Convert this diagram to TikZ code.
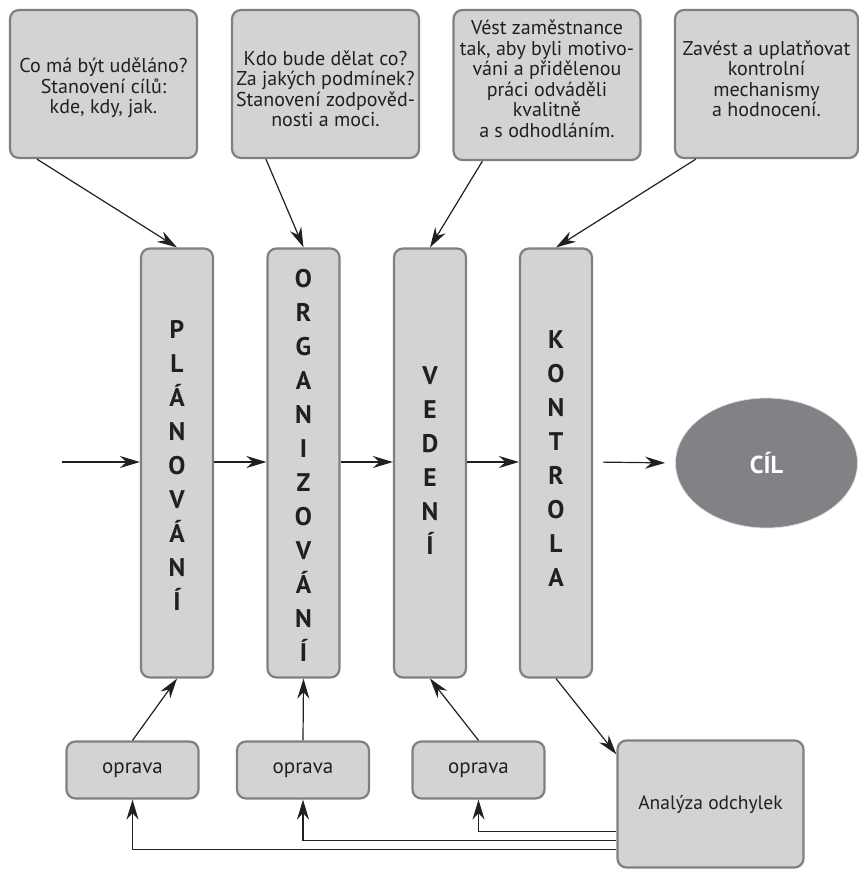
\documentclass[tikz,border=0pt]{standalone}
\usepackage{fontspec}
\setmainfont{PT Sans}
\usetikzlibrary{arrows.meta,shapes.geometric,calc}
\definecolor{boxfill}{HTML}{D1D3D4}
\definecolor{boxdraw}{HTML}{808080}
\definecolor{goalfill}{HTML}{808285}
\definecolor{linecol}{HTML}{231F20}
\begin{document}
\begin{tikzpicture}[x=1pt,y=-1pt,
  box/.style={draw=boxdraw,line width=2.2pt,fill=boxfill,rounded corners=9pt,inner sep=0pt},
  topbox/.style={box,minimum width=187pt,minimum height=148pt},
  colbox/.style={box,minimum width=72pt,minimum height=429pt},
  opbox/.style={box,minimum width=132pt,minimum height=57pt,font=\fontsize{21}{22}\selectfont,text=linecol},
  toptxt/.style={align=center,inner sep=0pt,font=\fontsize{20}{20.5}\selectfont,text=linecol},
  coltxt/.style={align=center,inner sep=0pt,font=\fontsize{25.5}{34}\selectfont\bfseries,text=linecol},
  arr/.style={draw=linecol,line width=1.2pt,-{Stealth[length=20pt,width=12pt,inset=6.5pt]}},
  fb/.style={arr,line width=1.3pt}
]
\useasboundingbox (0,0) rectangle (859,870);

% top boxes
\node[topbox] (t1) at (103.5,84) {};
\node[topbox] (t2) at (325.5,84) {};
\node[topbox,minimum height=150pt] (t3) at (547,85) {};
\node[topbox,minimum width=183pt] (t4) at (766.5,84) {};
\node[toptxt] (x1) at (103.5,88) {Co má být uděláno?\\Stanovení cílů:\\kde, kdy, jak.};
\node[toptxt] (x2) at (325.5,89) {Kdo bude dělat co?\\Za jakých podmínek?\\Stanovení zodpověd-\\nosti a moci.};
\node[toptxt] (x3) at (547,79) {Vést zaměstnance\\tak, aby byli motivo-\\váni a přidělenou\\práci odváděli\\kvalitně\\a s odhodláním.};
\node[toptxt] (x4) at (766.5,79) {Zavést a uplatňovat\\kontrolní\\mechanismy\\a hodnocení.};

% columns
\node[colbox] (plan) at (177,463) {};
\node[colbox] (org) at (303.5,463) {};
\node[colbox] (ved) at (430,463) {};
\node[colbox] (kon) at (556,463) {};
\node[coltxt] (lplan) at (177,465) {P\\L\\Á\\N\\O\\V\\Á\\N\\Í};
\node[coltxt] (lorg) at (303.5,465) {O\\R\\G\\A\\N\\I\\Z\\O\\V\\Á\\N\\Í};
\node[coltxt] (lved) at (430,461) {V\\E\\D\\E\\N\\Í};
\node[coltxt] (lkon) at (556,459) {K\\O\\N\\T\\R\\O\\L\\A};

% goal
\node[ellipse,minimum width=182pt,minimum height=130pt,inner sep=0pt,fill=goalfill,draw=boxfill!70!white,line width=0.7pt,
      text=white,font=\fontsize{24.5}{26}\selectfont\bfseries] (cil) at (766.5,463) {CÍL};

% bottom boxes
\node[opbox] (op1) at (132.5,770) {oprava};
\node[opbox] (op2) at (303,770) {oprava};
\node[opbox] (op3) at (478.5,770) {oprava};
\node[box,minimum width=186pt,minimum height=127pt,font=\fontsize{19.5}{22}\selectfont,text=linecol] (an) at (710.5,804) {Analýza odchylek};

% horizontal flow
\coordinate (in) at (62,462);
\draw[arr] (in) -- (in -| plan.west);
\draw[arr] (in -| plan.east) -- (in -| org.west);
\draw[arr] (in -| org.east) -- (in -| ved.west);
\draw[arr] (in -| ved.east) -- (in -| kon.west);
\draw[arr,shorten <=10pt,shorten >=10pt] (in -| kon.east) -- (cil.west);

% top arrows
\draw[arr] ($(t1.south west)+(28,0)$) -- (plan.north);
\draw[arr] ($(t2.south west)+(35,0)$) -- (org.north);
\draw[arr] ($(t3.south west)+(30,0)$) -- (ved.north);
\draw[arr] ($(t4.south west)+(22,0)$) -- (kon.north);

% bottom arrows
\draw[arr] (op1.north) -- (plan.south);
\draw[arr] (op2.north) -- (org.south);
\draw[arr] (op3.north) -- (ved.south);
\draw[arr] (kon.south) -- ($(an.north west)+(0,15)$);

% feedback
\draw[fb] ($(an.north west)+(0,92)$) -| (op3.south);
\draw[fb] ($(an.north west)+(0,101)$) -| (op2.south);
\draw[fb] ($(an.north west)+(0,110)$) -| (op1.south);
\end{tikzpicture}
\end{document}
